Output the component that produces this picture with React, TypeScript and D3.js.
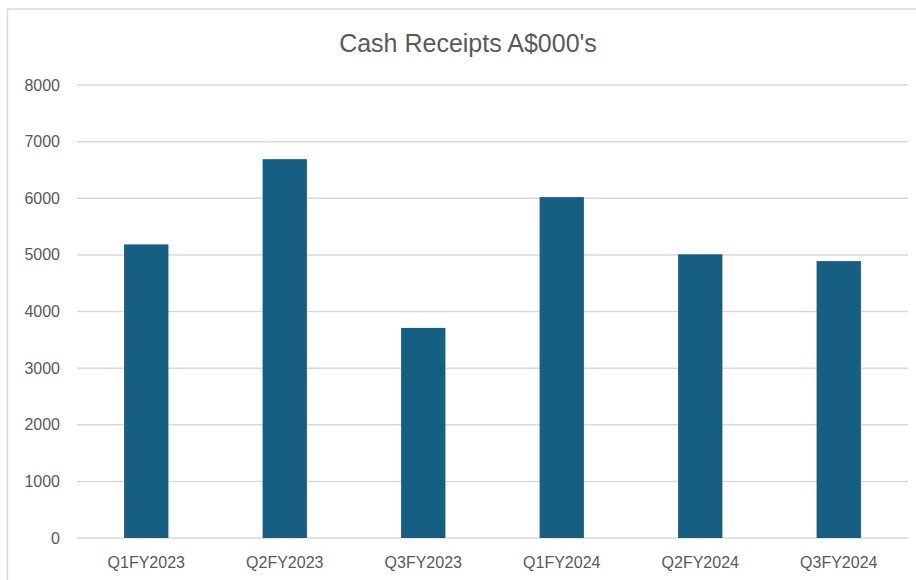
import React from 'react';
import * as d3 from 'd3';

const categories = ['Q1FY2023', 'Q2FY2023', 'Q3FY2023', 'Q1FY2024', 'Q2FY2024', 'Q3FY2024'];
const receipts = [5185, 6690, 3710, 6020, 5010, 4890];
const yTicks = [0, 1000, 2000, 3000, 4000, 5000, 6000, 7000, 8000];

const width = 916;
const height = 580;
const plot = { left: 77, right: 908, top: 85, bottom: 538 };

const App = () => {
  const x = d3.scaleBand().domain(categories).range([plot.left, plot.right]).paddingInner(0.68).paddingOuter(0.34);
  const y = d3.scaleLinear().domain([0, 8000]).range([plot.bottom, plot.top]);
  const font = '"Liberation Sans", Arial, sans-serif';

  return (
    <div style={{ position: 'absolute', left: 0, top: 0 }}>
      <svg width={width} height={height} style={{ display: 'block', background: '#fff' }}>
        {/* chart frame */}
        <rect x={7.5} y={9} width={width} height={height} fill="#fff" stroke="#d9d9d9" strokeWidth={1.5} />

        <text x={468} y={52} textAnchor="middle" fontFamily={font} fontSize={25} fill="#595959">
          Cash Receipts A$000's
        </text>

        {/* gridlines + y labels */}
        {yTicks.map((t) => (
          <g key={t}>
            <line x1={plot.left} x2={plot.right} y1={y(t)} y2={y(t)} stroke="#d9d9d9" strokeWidth={1.5} />
            <text x={60} y={y(t)} dy="0.35em" textAnchor="end" fontFamily={font} fontSize={16} fill="#595959">
              {t}
            </text>
          </g>
        ))}

        {/* bars */}
        {categories.map((c, i) => (
          <rect
            key={c}
            x={x(c)}
            y={y(receipts[i])}
            width={x.bandwidth()}
            height={y(0) - y(receipts[i])}
            fill="#175f82"
          />
        ))}

        {/* x labels */}
        {categories.map((c) => (
          <text
            key={c}
            x={(x(c) ?? 0) + x.bandwidth() / 2}
            y={568}
            textAnchor="middle"
            fontFamily={font}
            fontSize={16}
            fill="#595959"
          >
            {c}
          </text>
        ))}
      </svg>
    </div>
  );
};

export default App;
